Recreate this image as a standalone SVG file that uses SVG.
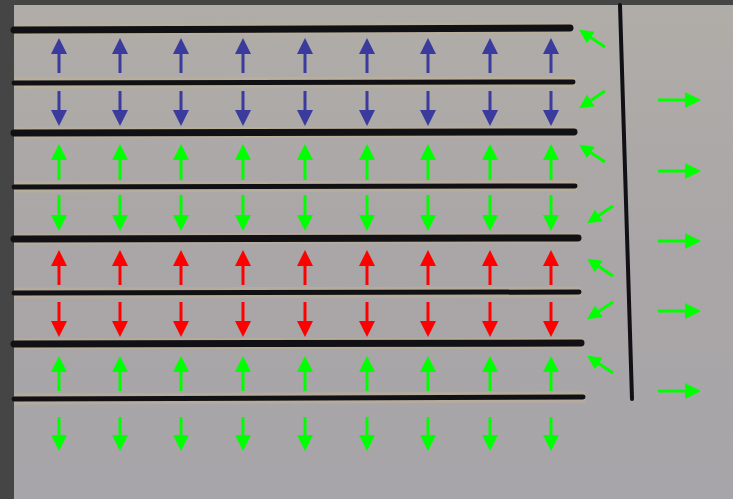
<svg xmlns="http://www.w3.org/2000/svg" width="733" height="499" viewBox="0 0 733 499">
<defs>
<linearGradient id="bg" x1="0" y1="0" x2="0" y2="1">
<stop offset="0" stop-color="#b0aca7"/>
<stop offset="0.5" stop-color="#aaa6a7"/>
<stop offset="1" stop-color="#a7a5a9"/>
</linearGradient>
<marker id="hb" markerUnits="userSpaceOnUse" markerWidth="17" markerHeight="17" viewBox="0 -8 17 16" refX="1" refY="0" orient="auto"><path d="M0,-8 L16,0 L0,8 Z" fill="#3b3b9e"/></marker>
<marker id="hg" markerUnits="userSpaceOnUse" markerWidth="17" markerHeight="17" viewBox="0 -8 17 16" refX="1" refY="0" orient="auto"><path d="M0,-8 L16,0 L0,8 Z" fill="#00ff00"/></marker>
<marker id="hr" markerUnits="userSpaceOnUse" markerWidth="17" markerHeight="17" viewBox="0 -8 17 16" refX="1" refY="0" orient="auto"><path d="M0,-8 L16,0 L0,8 Z" fill="#ff0000"/></marker>
<marker id="hd" markerUnits="userSpaceOnUse" markerWidth="15" markerHeight="15" viewBox="0 -7 15 14" refX="1" refY="0" orient="auto"><path d="M0,-7 L14,0 L0,7 Z" fill="#00ff00"/></marker>
<style>
.ln{stroke:#111014;stroke-linecap:round;fill:none}
.sh{stroke:#c4b48e;stroke-width:11;opacity:0.45;fill:none}
.b{stroke:#3b3b9e;stroke-width:3;marker-end:url(#hb)}
.g{stroke:#00ff00;stroke-width:3;marker-end:url(#hg)}
.r{stroke:#ff0000;stroke-width:3;marker-end:url(#hr)}
.d{stroke:#00ff00;stroke-width:3;marker-end:url(#hd)}
</style>
</defs>
<rect width="733" height="499" fill="#454545"/>
<rect x="14" y="5" width="719" height="494" fill="url(#bg)"/>
<g id="plates">
<path class="sh" d="M14,30 L572,28 M14,83 L575,82 M14,133 L576,132 M14,187 L577,186 M14,239 L580,238 M14,293 L581,292 M14,344 L583,343 M14,399 L585,397"/>
<path class="ln" stroke-width="7" d="M14,30 L570,28"/>
<path class="ln" stroke-width="5" d="M14,83 L573,82"/>
<path class="ln" stroke-width="7" d="M14,133 L574,132"/>
<path class="ln" stroke-width="5" d="M14,187 L575,186"/>
<path class="ln" stroke-width="7" d="M14,239 L578,238"/>
<path class="ln" stroke-width="5" d="M14,293 L579,292"/>
<path class="ln" stroke-width="7" d="M14,344 L581,343"/>
<path class="ln" stroke-width="5" d="M14,399 L583,397"/>
<path class="ln" stroke-width="4" stroke="#1c1a22" d="M620,5 L632,399"/>
</g>
<g id="arrows-row1">
<line class="b" x1="59" y1="73" x2="59" y2="53"/><line class="b" x1="120" y1="73" x2="120" y2="53"/><line class="b" x1="181" y1="73" x2="181" y2="53"/><line class="b" x1="243" y1="73" x2="243" y2="53"/><line class="b" x1="305" y1="73" x2="305" y2="53"/><line class="b" x1="367" y1="73" x2="367" y2="53"/><line class="b" x1="428" y1="73" x2="428" y2="53"/><line class="b" x1="490" y1="73" x2="490" y2="53"/><line class="b" x1="551" y1="73" x2="551" y2="53"/>
</g>
<g id="arrows-row2">
<line class="b" x1="59" y1="91" x2="59" y2="111"/><line class="b" x1="120" y1="91" x2="120" y2="111"/><line class="b" x1="181" y1="91" x2="181" y2="111"/><line class="b" x1="243" y1="91" x2="243" y2="111"/><line class="b" x1="305" y1="91" x2="305" y2="111"/><line class="b" x1="367" y1="91" x2="367" y2="111"/><line class="b" x1="428" y1="91" x2="428" y2="111"/><line class="b" x1="490" y1="91" x2="490" y2="111"/><line class="b" x1="551" y1="91" x2="551" y2="111"/>
</g>
<g id="arrows-row3">
<line class="g" x1="59" y1="180" x2="59" y2="159"/><line class="g" x1="120" y1="180" x2="120" y2="159"/><line class="g" x1="181" y1="180" x2="181" y2="159"/><line class="g" x1="243" y1="180" x2="243" y2="159"/><line class="g" x1="305" y1="180" x2="305" y2="159"/><line class="g" x1="367" y1="180" x2="367" y2="159"/><line class="g" x1="428" y1="180" x2="428" y2="159"/><line class="g" x1="490" y1="180" x2="490" y2="159"/><line class="g" x1="551" y1="180" x2="551" y2="159"/>
</g>
<g id="arrows-row4">
<line class="g" x1="59" y1="195" x2="59" y2="216"/><line class="g" x1="120" y1="195" x2="120" y2="216"/><line class="g" x1="181" y1="195" x2="181" y2="216"/><line class="g" x1="243" y1="195" x2="243" y2="216"/><line class="g" x1="305" y1="195" x2="305" y2="216"/><line class="g" x1="367" y1="195" x2="367" y2="216"/><line class="g" x1="428" y1="195" x2="428" y2="216"/><line class="g" x1="490" y1="195" x2="490" y2="216"/><line class="g" x1="551" y1="195" x2="551" y2="216"/>
</g>
<g id="arrows-row5">
<line class="r" x1="59" y1="285" x2="59" y2="265"/><line class="r" x1="120" y1="285" x2="120" y2="265"/><line class="r" x1="181" y1="285" x2="181" y2="265"/><line class="r" x1="243" y1="285" x2="243" y2="265"/><line class="r" x1="305" y1="285" x2="305" y2="265"/><line class="r" x1="367" y1="285" x2="367" y2="265"/><line class="r" x1="428" y1="285" x2="428" y2="265"/><line class="r" x1="490" y1="285" x2="490" y2="265"/><line class="r" x1="551" y1="285" x2="551" y2="265"/>
</g>
<g id="arrows-row6">
<line class="r" x1="59" y1="302" x2="59" y2="322"/><line class="r" x1="120" y1="302" x2="120" y2="322"/><line class="r" x1="181" y1="302" x2="181" y2="322"/><line class="r" x1="243" y1="302" x2="243" y2="322"/><line class="r" x1="305" y1="302" x2="305" y2="322"/><line class="r" x1="367" y1="302" x2="367" y2="322"/><line class="r" x1="428" y1="302" x2="428" y2="322"/><line class="r" x1="490" y1="302" x2="490" y2="322"/><line class="r" x1="551" y1="302" x2="551" y2="322"/>
</g>
<g id="arrows-row7">
<line class="g" x1="59" y1="391" x2="59" y2="371"/><line class="g" x1="120" y1="391" x2="120" y2="371"/><line class="g" x1="181" y1="391" x2="181" y2="371"/><line class="g" x1="243" y1="391" x2="243" y2="371"/><line class="g" x1="305" y1="391" x2="305" y2="371"/><line class="g" x1="367" y1="391" x2="367" y2="371"/><line class="g" x1="428" y1="391" x2="428" y2="371"/><line class="g" x1="490" y1="391" x2="490" y2="371"/><line class="g" x1="551" y1="391" x2="551" y2="371"/>
</g>
<g id="arrows-row8">
<line class="g" x1="59" y1="417" x2="59" y2="436"/><line class="g" x1="120" y1="417" x2="120" y2="436"/><line class="g" x1="181" y1="417" x2="181" y2="436"/><line class="g" x1="243" y1="417" x2="243" y2="436"/><line class="g" x1="305" y1="417" x2="305" y2="436"/><line class="g" x1="367" y1="417" x2="367" y2="436"/><line class="g" x1="428" y1="417" x2="428" y2="436"/><line class="g" x1="490" y1="417" x2="490" y2="436"/><line class="g" x1="551" y1="417" x2="551" y2="436"/>
</g>
<g id="edge-arrows">
<line class="d" x1="605" y1="47" x2="590" y2="37"/>
<line class="d" x1="605" y1="91" x2="590" y2="101"/>
<line class="d" x1="605" y1="162" x2="590" y2="152"/>
<line class="d" x1="613" y1="206" x2="598" y2="216"/>
<line class="d" x1="613" y1="276" x2="598" y2="266"/>
<line class="d" x1="613" y1="302" x2="598" y2="312"/>
<line class="d" x1="613" y1="373" x2="598" y2="363"/>
</g>
<g id="right-arrows">
<line class="g" x1="658" y1="100" x2="686" y2="100"/>
<line class="g" x1="658" y1="171" x2="686" y2="171"/>
<line class="g" x1="658" y1="241" x2="686" y2="241"/>
<line class="g" x1="658" y1="311" x2="686" y2="311"/>
<line class="g" x1="658" y1="391" x2="686" y2="391"/>
</g>
</svg>
